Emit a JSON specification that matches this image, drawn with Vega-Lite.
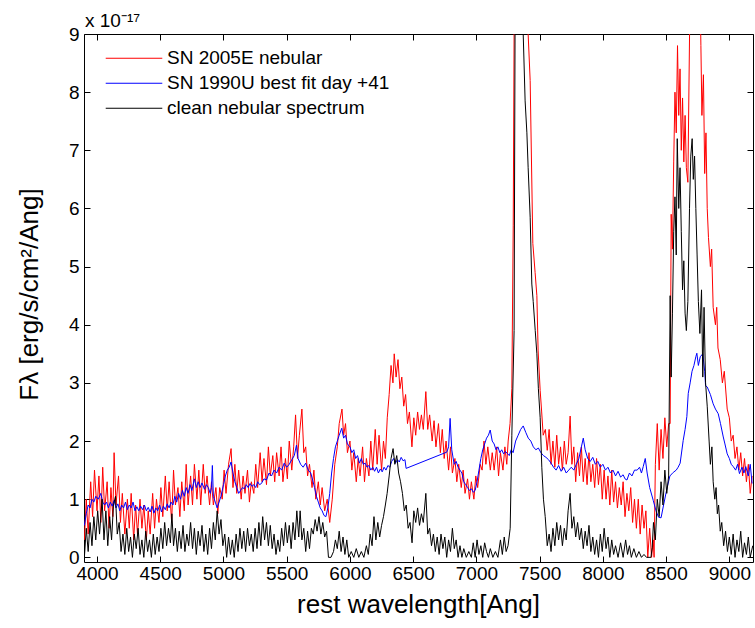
{
"$schema": "https://vega.github.io/schema/vega-lite/v6.json",
"width": 669,
"height": 528,
"autosize": {"type": "none"},
"padding": {"left": 84, "top": 34, "right": 2, "bottom": 66},
"background": "white",
"config": {
  "view": {"stroke": "black", "strokeWidth": 1},
  "font": "Liberation Sans",
  "axis": {"domain": false, "grid": false, "tickColor": "black", "labelColor": "black", "titleColor": "black", "labelFont": "Liberation Sans", "titleFont": "Liberation Sans", "labelFontSize": 19, "titleFontSize": 26, "titleFontWeight": "normal", "tickWidth": 1}
},
"title": {"text": "x 10⁻¹⁷", "anchor": "start", "frame": "group", "fontSize": 19, "font": "Liberation Sans", "fontWeight": "normal", "color": "black", "offset": 8, "dx": 1, "dy": 14},
"datasets": {
"red": [
{"w":3900,"f":0.3},{"w":3915,"f":1.0},{"w":3930,"f":0.4},{"w":3950,"f":1.3},{"w":3965,"f":0.7},{"w":3980,"f":1.5},{"w":4000,"f":0.8},{"w":4015,"f":1.4},{"w":4030,"f":0.6},{"w":4045,"f":1.55},{"w":4060,"f":0.8},{"w":4080,"f":1.3},{"w":4095,"f":0.5},{"w":4110,"f":1.2},{"w":4125,"f":0.7},{"w":4135,"f":1.8},{"w":4150,"f":0.9},{"w":4170,"f":1.4},{"w":4185,"f":0.6},{"w":4200,"f":1.1},{"w":4220,"f":0.4},{"w":4240,"f":1.0},{"w":4255,"f":0.5},{"w":4270,"f":1.1},{"w":4290,"f":0.3},{"w":4305,"f":0.9},{"w":4320,"f":0.4},{"w":4340,"f":1.0},{"w":4355,"f":0.5},{"w":4370,"f":0.9},{"w":4390,"f":0.3},{"w":4405,"f":0.8},{"w":4420,"f":0.4},{"w":4440,"f":1.1},{"w":4455,"f":0.5},{"w":4470,"f":1.0},{"w":4490,"f":0.6},{"w":4505,"f":1.2},{"w":4520,"f":0.7},{"w":4540,"f":1.4},{"w":4555,"f":0.8},{"w":4570,"f":1.3},{"w":4590,"f":0.6},{"w":4605,"f":1.5},{"w":4620,"f":0.9},{"w":4640,"f":1.2},{"w":4655,"f":0.7},{"w":4670,"f":1.3},{"w":4690,"f":0.8},{"w":4705,"f":1.6},{"w":4720,"f":0.9},{"w":4740,"f":1.4},{"w":4755,"f":0.9},{"w":4770,"f":1.6},{"w":4790,"f":1.0},{"w":4805,"f":1.5},{"w":4820,"f":0.9},{"w":4840,"f":1.6},{"w":4855,"f":1.1},{"w":4870,"f":1.4},{"w":4890,"f":0.9},{"w":4905,"f":1.3},{"w":4920,"f":0.9},{"w":4940,"f":1.2},{"w":4955,"f":0.75},{"w":4970,"f":1.2},{"w":4990,"f":1.0},{"w":5005,"f":1.5},{"w":5020,"f":1.1},{"w":5040,"f":1.6},{"w":5060,"f":1.87},{"w":5075,"f":1.2},{"w":5090,"f":1.6},{"w":5105,"f":1.1},{"w":5120,"f":1.5},{"w":5140,"f":1.0},{"w":5155,"f":1.4},{"w":5170,"f":1.1},{"w":5190,"f":1.5},{"w":5205,"f":0.95},{"w":5220,"f":1.3},{"w":5240,"f":1.1},{"w":5255,"f":1.6},{"w":5270,"f":1.2},{"w":5290,"f":1.8},{"w":5305,"f":1.3},{"w":5320,"f":1.7},{"w":5340,"f":1.25},{"w":5355,"f":1.9},{"w":5370,"f":1.4},{"w":5390,"f":1.75},{"w":5405,"f":1.3},{"w":5420,"f":1.8},{"w":5440,"f":1.4},{"w":5455,"f":1.9},{"w":5470,"f":1.3},{"w":5490,"f":1.7},{"w":5505,"f":1.35},{"w":5520,"f":2.0},{"w":5540,"f":1.5},{"w":5555,"f":1.9},{"w":5570,"f":2.45},{"w":5585,"f":1.7},{"w":5600,"f":2.1},{"w":5620,"f":2.55},{"w":5635,"f":1.8},{"w":5650,"f":1.9},{"w":5665,"f":1.4},{"w":5680,"f":1.6},{"w":5700,"f":1.2},{"w":5715,"f":1.5},{"w":5730,"f":1.0},{"w":5750,"f":1.3},{"w":5765,"f":0.9},{"w":5780,"f":1.2},{"w":5800,"f":0.8},{"w":5820,"f":1.0},{"w":5840,"f":0.6},{"w":5860,"f":1.0},{"w":5880,"f":1.6},{"w":5900,"f":1.9},{"w":5915,"f":2.3},{"w":5937,"f":2.55},{"w":5950,"f":2.1},{"w":5965,"f":2.3},{"w":5980,"f":1.8},{"w":6000,"f":2.0},{"w":6015,"f":1.5},{"w":6030,"f":1.8},{"w":6050,"f":1.3},{"w":6065,"f":1.7},{"w":6080,"f":1.4},{"w":6100,"f":1.9},{"w":6115,"f":1.3},{"w":6130,"f":1.7},{"w":6150,"f":1.4},{"w":6165,"f":2.0},{"w":6180,"f":1.5},{"w":6200,"f":2.2},{"w":6215,"f":1.6},{"w":6230,"f":2.1},{"w":6250,"f":1.5},{"w":6265,"f":2.0},{"w":6280,"f":1.7},{"w":6295,"f":2.4},{"w":6310,"f":2.8},{"w":6325,"f":3.3},{"w":6340,"f":3.0},{"w":6350,"f":3.5},{"w":6365,"f":3.1},{"w":6380,"f":3.4},{"w":6395,"f":2.9},{"w":6410,"f":3.1},{"w":6425,"f":2.6},{"w":6440,"f":2.8},{"w":6455,"f":2.3},{"w":6470,"f":2.5},{"w":6490,"f":1.9},{"w":6505,"f":2.4},{"w":6520,"f":2.1},{"w":6535,"f":2.5},{"w":6550,"f":2.2},{"w":6565,"f":2.45},{"w":6580,"f":2.2},{"w":6600,"f":2.85},{"w":6615,"f":2.2},{"w":6630,"f":2.45},{"w":6650,"f":2.0},{"w":6665,"f":2.35},{"w":6680,"f":1.9},{"w":6700,"f":2.3},{"w":6715,"f":1.8},{"w":6730,"f":2.2},{"w":6745,"f":1.7},{"w":6760,"f":2.0},{"w":6780,"f":1.5},{"w":6795,"f":1.9},{"w":6810,"f":1.45},{"w":6830,"f":1.7},{"w":6845,"f":1.3},{"w":6860,"f":1.6},{"w":6880,"f":1.2},{"w":6895,"f":1.5},{"w":6910,"f":1.1},{"w":6930,"f":1.35},{"w":6945,"f":1.0},{"w":6960,"f":1.3},{"w":6980,"f":1.0},{"w":6995,"f":1.4},{"w":7010,"f":1.2},{"w":7030,"f":1.6},{"w":7045,"f":1.5},{"w":7060,"f":2.0},{"w":7075,"f":1.6},{"w":7090,"f":1.9},{"w":7110,"f":1.5},{"w":7125,"f":1.8},{"w":7140,"f":1.5},{"w":7160,"f":1.9},{"w":7175,"f":1.4},{"w":7190,"f":1.8},{"w":7210,"f":1.5},{"w":7225,"f":1.9},{"w":7240,"f":1.6},{"w":7251,"f":2.0},{"w":7266,"f":2.3},{"w":7280,"f":2.9},{"w":7291,"f":5.7},{"w":7300,"f":10},{"w":7320,"f":14},{"w":7360,"f":15},{"w":7400,"f":11},{"w":7409,"f":9},{"w":7425,"f":8.2},{"w":7446,"f":5.4},{"w":7464,"f":4.9},{"w":7478,"f":4.5},{"w":7488,"f":3.55},{"w":7504,"f":2.87},{"w":7516,"f":2.5},{"w":7528,"f":2.1},{"w":7545,"f":2.2},{"w":7560,"f":1.84},{"w":7575,"f":2.2},{"w":7590,"f":1.6},{"w":7605,"f":2.0},{"w":7620,"f":1.55},{"w":7635,"f":2.1},{"w":7650,"f":1.6},{"w":7665,"f":1.9},{"w":7680,"f":1.5},{"w":7695,"f":2.0},{"w":7710,"f":1.6},{"w":7725,"f":1.8},{"w":7741,"f":2.43},{"w":7755,"f":1.6},{"w":7770,"f":1.9},{"w":7785,"f":1.3},{"w":7800,"f":1.8},{"w":7815,"f":1.4},{"w":7830,"f":1.9},{"w":7845,"f":1.3},{"w":7860,"f":1.7},{"w":7875,"f":1.25},{"w":7890,"f":1.8},{"w":7905,"f":1.3},{"w":7920,"f":1.6},{"w":7935,"f":1.2},{"w":7950,"f":1.7},{"w":7965,"f":1.25},{"w":7980,"f":1.6},{"w":7995,"f":1.0},{"w":8010,"f":1.5},{"w":8025,"f":1.0},{"w":8040,"f":1.4},{"w":8055,"f":0.9},{"w":8070,"f":1.5},{"w":8085,"f":0.95},{"w":8100,"f":1.3},{"w":8115,"f":0.85},{"w":8130,"f":1.2},{"w":8145,"f":0.9},{"w":8160,"f":1.3},{"w":8175,"f":0.7},{"w":8190,"f":1.1},{"w":8205,"f":0.8},{"w":8220,"f":1.2},{"w":8235,"f":0.6},{"w":8250,"f":1.0},{"w":8265,"f":0.5},{"w":8280,"f":1.0},{"w":8295,"f":0.4},{"w":8310,"f":0.9},{"w":8325,"f":0.5},{"w":8340,"f":0.8},{"w":8355,"f":0.0},{"w":8370,"f":0.5},{"w":8385,"f":0.0},{"w":8398,"f":0.3},{"w":8405,"f":0.0},{"w":8415,"f":1.6},{"w":8430,"f":2.3},{"w":8445,"f":1.5},{"w":8460,"f":2.2},{"w":8475,"f":1.7},{"w":8490,"f":2.4},{"w":8505,"f":1.9},{"w":8520,"f":2.3},{"w":8532,"f":2.3},{"w":8540,"f":5.9},{"w":8550,"f":5.3},{"w":8560,"f":6.8},{"w":8570,"f":8.0},{"w":8580,"f":7.3},{"w":8590,"f":8.8},{"w":8600,"f":7.6},{"w":8610,"f":8.4},{"w":8620,"f":7.0},{"w":8630,"f":7.9},{"w":8640,"f":6.8},{"w":8650,"f":7.6},{"w":8660,"f":6.7},{"w":8672,"f":6.45},{"w":8688,"f":9.5},{"w":8700,"f":12},{"w":8730,"f":14},{"w":8760,"f":11},{"w":8775,"f":8.8},{"w":8783,"f":7.6},{"w":8795,"f":8.3},{"w":8805,"f":6.6},{"w":8815,"f":7.3},{"w":8825,"f":6.0},{"w":8835,"f":5.5},{"w":8850,"f":5.0},{"w":8860,"f":5.3},{"w":8872,"f":4.3},{"w":8890,"f":4.0},{"w":8900,"f":4.3},{"w":8910,"f":3.6},{"w":8928,"f":3.4},{"w":8945,"f":3.0},{"w":8960,"f":3.2},{"w":8983,"f":2.55},{"w":9000,"f":2.4},{"w":9015,"f":2.0},{"w":9030,"f":2.1},{"w":9045,"f":1.7},{"w":9060,"f":1.9},{"w":9075,"f":1.5},{"w":9090,"f":1.8},{"w":9105,"f":1.4},{"w":9120,"f":1.7},{"w":9135,"f":1.3},{"w":9150,"f":1.6},{"w":9165,"f":1.1},{"w":9180,"f":1.4}
],
"blue": [
{"w":3900,"f":0.55},{"w":3915,"f":0.75},{"w":3930,"f":0.9},{"w":3945,"f":0.85},{"w":3960,"f":1.0},{"w":3975,"f":0.95},{"w":3990,"f":1.05},{"w":4010,"f":1.0},{"w":4030,"f":1.1},{"w":4045,"f":0.95},{"w":4060,"f":0.9},{"w":4075,"f":0.95},{"w":4090,"f":0.85},{"w":4105,"f":0.95},{"w":4120,"f":0.88},{"w":4135,"f":0.98},{"w":4150,"f":0.85},{"w":4165,"f":0.92},{"w":4180,"f":0.8},{"w":4195,"f":0.9},{"w":4210,"f":0.85},{"w":4225,"f":0.95},{"w":4240,"f":0.82},{"w":4255,"f":0.9},{"w":4270,"f":0.85},{"w":4285,"f":0.95},{"w":4300,"f":0.8},{"w":4315,"f":0.87},{"w":4330,"f":0.8},{"w":4345,"f":0.88},{"w":4360,"f":0.82},{"w":4375,"f":0.9},{"w":4390,"f":0.8},{"w":4405,"f":0.86},{"w":4420,"f":0.78},{"w":4435,"f":0.88},{"w":4450,"f":0.76},{"w":4465,"f":0.85},{"w":4480,"f":0.8},{"w":4495,"f":0.9},{"w":4510,"f":0.78},{"w":4525,"f":0.88},{"w":4540,"f":0.82},{"w":4555,"f":0.92},{"w":4570,"f":0.85},{"w":4585,"f":0.95},{"w":4600,"f":0.9},{"w":4615,"f":1.05},{"w":4630,"f":0.95},{"w":4645,"f":1.1},{"w":4660,"f":1.0},{"w":4675,"f":1.15},{"w":4690,"f":1.05},{"w":4705,"f":1.2},{"w":4720,"f":1.1},{"w":4735,"f":1.25},{"w":4750,"f":1.15},{"w":4770,"f":1.35},{"w":4785,"f":1.2},{"w":4800,"f":1.3},{"w":4815,"f":1.2},{"w":4830,"f":1.28},{"w":4850,"f":1.17},{"w":4865,"f":1.25},{"w":4880,"f":1.2},{"w":4895,"f":1.1},{"w":4905,"f":1.2},{"w":4912,"f":1.58},{"w":4920,"f":1.05},{"w":4935,"f":0.95},{"w":4950,"f":0.85},{"w":4965,"f":0.95},{"w":4980,"f":1.05},{"w":5000,"f":1.25},{"w":5015,"f":1.4},{"w":5030,"f":1.5},{"w":5045,"f":1.55},{"w":5060,"f":1.64},{"w":5075,"f":1.45},{"w":5090,"f":1.3},{"w":5105,"f":1.2},{"w":5120,"f":1.1},{"w":5135,"f":1.15},{"w":5150,"f":1.2},{"w":5165,"f":1.18},{"w":5180,"f":1.25},{"w":5195,"f":1.2},{"w":5210,"f":1.27},{"w":5225,"f":1.22},{"w":5240,"f":1.25},{"w":5255,"f":1.2},{"w":5270,"f":1.3},{"w":5285,"f":1.25},{"w":5300,"f":1.27},{"w":5320,"f":1.35},{"w":5340,"f":1.33},{"w":5360,"f":1.45},{"w":5380,"f":1.4},{"w":5400,"f":1.5},{"w":5420,"f":1.45},{"w":5440,"f":1.55},{"w":5460,"f":1.5},{"w":5480,"f":1.62},{"w":5500,"f":1.55},{"w":5520,"f":1.6},{"w":5540,"f":1.68},{"w":5560,"f":1.75},{"w":5577,"f":1.93},{"w":5590,"f":1.7},{"w":5610,"f":1.6},{"w":5630,"f":1.55},{"w":5650,"f":1.62},{"w":5670,"f":1.5},{"w":5690,"f":1.45},{"w":5705,"f":1.33},{"w":5720,"f":1.2},{"w":5735,"f":1.05},{"w":5750,"f":0.95},{"w":5765,"f":0.85},{"w":5780,"f":0.8},{"w":5795,"f":0.72},{"w":5810,"f":0.7},{"w":5825,"f":0.85},{"w":5840,"f":1.1},{"w":5855,"f":1.45},{"w":5870,"f":1.7},{"w":5885,"f":1.9},{"w":5900,"f":2.0},{"w":5915,"f":2.1},{"w":5935,"f":2.22},{"w":5950,"f":2.05},{"w":5965,"f":2.1},{"w":5980,"f":1.95},{"w":6000,"f":1.9},{"w":6015,"f":1.8},{"w":6030,"f":1.85},{"w":6045,"f":1.7},{"w":6060,"f":1.75},{"w":6075,"f":1.62},{"w":6090,"f":1.7},{"w":6105,"f":1.6},{"w":6120,"f":1.62},{"w":6135,"f":1.55},{"w":6150,"f":1.58},{"w":6165,"f":1.5},{"w":6180,"f":1.55},{"w":6195,"f":1.48},{"w":6210,"f":1.55},{"w":6225,"f":1.45},{"w":6240,"f":1.52},{"w":6255,"f":1.47},{"w":6270,"f":1.55},{"w":6285,"f":1.5},{"w":6300,"f":1.58},{"w":6315,"f":1.55},{"w":6330,"f":1.65},{"w":6345,"f":1.7},{"w":6360,"f":1.62},{"w":6375,"f":1.68},{"w":6390,"f":1.64},{"w":6405,"f":1.72},{"w":6420,"f":1.66},{"w":6435,"f":1.68},{"w":6444,"f":1.53},{"w":6766,"f":1.81},{"w":6780,"f":1.9},{"w":6792,"f":2.39},{"w":6805,"f":1.85},{"w":6824,"f":1.6},{"w":6840,"f":1.65},{"w":6855,"f":1.55},{"w":6870,"f":1.5},{"w":6885,"f":1.45},{"w":6900,"f":1.3},{"w":6915,"f":1.25},{"w":6930,"f":1.2},{"w":6945,"f":1.15},{"w":6960,"f":1.18},{"w":6975,"f":1.12},{"w":6990,"f":1.15},{"w":7005,"f":1.3},{"w":7020,"f":1.5},{"w":7035,"f":1.7},{"w":7050,"f":1.85},{"w":7065,"f":1.95},{"w":7080,"f":2.05},{"w":7095,"f":2.1},{"w":7109,"f":2.19},{"w":7125,"f":2.0},{"w":7140,"f":1.95},{"w":7155,"f":1.85},{"w":7170,"f":1.9},{"w":7185,"f":1.8},{"w":7200,"f":1.85},{"w":7215,"f":1.78},{"w":7230,"f":1.82},{"w":7243,"f":1.79},{"w":7260,"f":1.75},{"w":7275,"f":1.85},{"w":7290,"f":1.8},{"w":7310,"f":2.0},{"w":7330,"f":2.1},{"w":7350,"f":2.2},{"w":7370,"f":2.26},{"w":7390,"f":2.15},{"w":7410,"f":2.05},{"w":7430,"f":2.0},{"w":7450,"f":1.9},{"w":7470,"f":1.85},{"w":7490,"f":1.88},{"w":7510,"f":1.8},{"w":7530,"f":1.75},{"w":7550,"f":1.72},{"w":7570,"f":1.68},{"w":7590,"f":1.62},{"w":7610,"f":1.55},{"w":7630,"f":1.5},{"w":7650,"f":1.58},{"w":7670,"f":1.48},{"w":7690,"f":1.55},{"w":7710,"f":1.45},{"w":7730,"f":1.5},{"w":7750,"f":1.55},{"w":7770,"f":1.5},{"w":7790,"f":1.6},{"w":7810,"f":1.7},{"w":7830,"f":1.9},{"w":7845,"f":2.05},{"w":7860,"f":1.85},{"w":7880,"f":1.7},{"w":7900,"f":1.65},{"w":7920,"f":1.72},{"w":7940,"f":1.6},{"w":7960,"f":1.65},{"w":7980,"f":1.55},{"w":8000,"f":1.6},{"w":8020,"f":1.5},{"w":8040,"f":1.55},{"w":8060,"f":1.45},{"w":8080,"f":1.5},{"w":8100,"f":1.4},{"w":8120,"f":1.48},{"w":8140,"f":1.38},{"w":8160,"f":1.42},{"w":8175,"f":1.35},{"w":8190,"f":1.33},{"w":8210,"f":1.45},{"w":8230,"f":1.4},{"w":8250,"f":1.5},{"w":8271,"f":1.5},{"w":8290,"f":1.55},{"w":8305,"f":1.45},{"w":8319,"f":1.56},{"w":8335,"f":1.7},{"w":8350,"f":1.45},{"w":8370,"f":1.2},{"w":8398,"f":0.98},{"w":8420,"f":0.8},{"w":8440,"f":0.69},{"w":8460,"f":0.68},{"w":8480,"f":0.9},{"w":8508,"f":1.2},{"w":8530,"f":1.4},{"w":8556,"f":1.46},{"w":8580,"f":1.5},{"w":8595,"f":1.55},{"w":8611,"f":1.62},{"w":8635,"f":2.01},{"w":8650,"f":2.2},{"w":8664,"f":2.42},{"w":8675,"f":2.82},{"w":8690,"f":3.0},{"w":8705,"f":3.2},{"w":8720,"f":3.3},{"w":8735,"f":3.45},{"w":8743,"f":3.51},{"w":8755,"f":3.3},{"w":8770,"f":3.45},{"w":8790,"f":3.5},{"w":8805,"f":3.2},{"w":8812,"f":2.95},{"w":8825,"f":2.93},{"w":8850,"f":2.8},{"w":8872,"f":2.64},{"w":8890,"f":2.55},{"w":8912,"f":2.47},{"w":8930,"f":2.3},{"w":8952,"f":2.07},{"w":8965,"f":1.95},{"w":8983,"f":1.78},{"w":9000,"f":1.7},{"w":9015,"f":1.6},{"w":9031,"f":1.56},{"w":9050,"f":1.5},{"w":9065,"f":1.6},{"w":9080,"f":1.44},{"w":9100,"f":1.55},{"w":9115,"f":1.45},{"w":9130,"f":1.56},{"w":9150,"f":1.4},{"w":9165,"f":1.6},{"w":9180,"f":1.27}
],
"black": [
{"w":3900,"f":0.0},{"w":3915,"f":0.5},{"w":3930,"f":0.1},{"w":3945,"f":0.6},{"w":3960,"f":0.2},{"w":3975,"f":0.7},{"w":3990,"f":0.3},{"w":4005,"f":0.8},{"w":4020,"f":0.4},{"w":4040,"f":1.0},{"w":4055,"f":0.3},{"w":4070,"f":0.8},{"w":4085,"f":0.2},{"w":4100,"f":0.7},{"w":4115,"f":0.3},{"w":4130,"f":0.9},{"w":4146,"f":1.05},{"w":4160,"f":0.4},{"w":4175,"f":0.6},{"w":4190,"f":0.1},{"w":4205,"f":0.4},{"w":4220,"f":0.05},{"w":4235,"f":0.5},{"w":4250,"f":0.1},{"w":4265,"f":0.35},{"w":4280,"f":0.0},{"w":4295,"f":0.4},{"w":4310,"f":0.15},{"w":4325,"f":0.5},{"w":4340,"f":0.05},{"w":4355,"f":0.3},{"w":4370,"f":0.0},{"w":4385,"f":0.45},{"w":4400,"f":0.1},{"w":4415,"f":0.3},{"w":4430,"f":0.0},{"w":4445,"f":0.4},{"w":4460,"f":0.05},{"w":4475,"f":0.35},{"w":4490,"f":0.1},{"w":4505,"f":0.5},{"w":4520,"f":0.15},{"w":4535,"f":0.6},{"w":4550,"f":0.2},{"w":4565,"f":0.5},{"w":4580,"f":0.25},{"w":4592,"f":0.75},{"w":4605,"f":0.2},{"w":4620,"f":0.5},{"w":4635,"f":0.1},{"w":4650,"f":0.45},{"w":4665,"f":0.15},{"w":4680,"f":0.55},{"w":4695,"f":0.1},{"w":4710,"f":0.4},{"w":4725,"f":0.2},{"w":4740,"f":0.6},{"w":4755,"f":0.15},{"w":4770,"f":0.5},{"w":4785,"f":0.05},{"w":4800,"f":0.45},{"w":4815,"f":0.2},{"w":4830,"f":0.55},{"w":4845,"f":0.1},{"w":4860,"f":0.4},{"w":4875,"f":0.05},{"w":4890,"f":0.5},{"w":4905,"f":0.15},{"w":4920,"f":0.6},{"w":4935,"f":0.3},{"w":4950,"f":0.8},{"w":4965,"f":0.4},{"w":4980,"f":0.65},{"w":4995,"f":0.2},{"w":5010,"f":0.4},{"w":5025,"f":0.0},{"w":5040,"f":0.35},{"w":5055,"f":0.05},{"w":5070,"f":0.3},{"w":5085,"f":0.0},{"w":5100,"f":0.4},{"w":5115,"f":0.1},{"w":5130,"f":0.5},{"w":5145,"f":0.15},{"w":5160,"f":0.45},{"w":5175,"f":0.1},{"w":5190,"f":0.5},{"w":5205,"f":0.2},{"w":5220,"f":0.4},{"w":5235,"f":0.1},{"w":5250,"f":0.5},{"w":5265,"f":0.15},{"w":5280,"f":0.6},{"w":5295,"f":0.2},{"w":5310,"f":0.7},{"w":5325,"f":0.3},{"w":5340,"f":0.6},{"w":5355,"f":0.2},{"w":5370,"f":0.55},{"w":5385,"f":0.15},{"w":5400,"f":0.4},{"w":5415,"f":0.05},{"w":5430,"f":0.3},{"w":5445,"f":0.1},{"w":5460,"f":0.5},{"w":5475,"f":0.2},{"w":5490,"f":0.6},{"w":5505,"f":0.25},{"w":5520,"f":0.55},{"w":5535,"f":0.15},{"w":5550,"f":0.6},{"w":5565,"f":0.3},{"w":5580,"f":0.8},{"w":5595,"f":0.35},{"w":5606,"f":0.8},{"w":5620,"f":0.3},{"w":5635,"f":0.5},{"w":5650,"f":0.1},{"w":5665,"f":0.45},{"w":5680,"f":0.15},{"w":5695,"f":0.5},{"w":5710,"f":0.4},{"w":5725,"f":0.65},{"w":5740,"f":0.45},{"w":5755,"f":0.7},{"w":5770,"f":0.4},{"w":5785,"f":0.6},{"w":5800,"f":0.35},{"w":5815,"f":0.45},{"w":5830,"f":0.0},{"w":5850,"f":0.0},{"w":5870,"f":0.1},{"w":5885,"f":0.3},{"w":5900,"f":0.15},{"w":5915,"f":0.45},{"w":5930,"f":0.1},{"w":5945,"f":0.35},{"w":5960,"f":0.05},{"w":5975,"f":0.3},{"w":5990,"f":0.0},{"w":6010,"f":0.1},{"w":6030,"f":0.0},{"w":6050,"f":0.15},{"w":6070,"f":0.0},{"w":6090,"f":0.1},{"w":6110,"f":0.0},{"w":6130,"f":0.2},{"w":6145,"f":0.05},{"w":6160,"f":0.4},{"w":6175,"f":0.2},{"w":6190,"f":0.7},{"w":6205,"f":0.3},{"w":6220,"f":0.6},{"w":6235,"f":0.35},{"w":6250,"f":0.55},{"w":6265,"f":0.7},{"w":6280,"f":0.9},{"w":6294,"f":1.1},{"w":6310,"f":1.4},{"w":6325,"f":1.7},{"w":6341,"f":1.87},{"w":6355,"f":1.6},{"w":6370,"f":1.75},{"w":6385,"f":1.45},{"w":6400,"f":1.3},{"w":6415,"f":1.1},{"w":6430,"f":0.8},{"w":6445,"f":0.9},{"w":6460,"f":0.5},{"w":6475,"f":0.6},{"w":6491,"f":0.25},{"w":6505,"f":0.8},{"w":6520,"f":0.6},{"w":6535,"f":0.85},{"w":6550,"f":0.55},{"w":6565,"f":0.75},{"w":6580,"f":0.6},{"w":6600,"f":1.1},{"w":6615,"f":0.4},{"w":6630,"f":0.5},{"w":6645,"f":0.2},{"w":6660,"f":0.4},{"w":6675,"f":0.1},{"w":6690,"f":0.35},{"w":6705,"f":0.05},{"w":6720,"f":0.4},{"w":6735,"f":0.15},{"w":6750,"f":0.35},{"w":6765,"f":0.0},{"w":6780,"f":0.3},{"w":6795,"f":0.1},{"w":6810,"f":0.5},{"w":6825,"f":0.15},{"w":6840,"f":0.3},{"w":6855,"f":0.0},{"w":6870,"f":0.2},{"w":6885,"f":0.0},{"w":6900,"f":0.15},{"w":6920,"f":0.0},{"w":6940,"f":0.1},{"w":6960,"f":0.0},{"w":6975,"f":0.25},{"w":6990,"f":0.0},{"w":7005,"f":0.3},{"w":7020,"f":0.05},{"w":7035,"f":0.2},{"w":7050,"f":0.0},{"w":7065,"f":0.25},{"w":7080,"f":0.1},{"w":7095,"f":0.0},{"w":7110,"f":0.15},{"w":7130,"f":0.0},{"w":7150,"f":0.1},{"w":7170,"f":0.0},{"w":7190,"f":0.3},{"w":7205,"f":0.05},{"w":7220,"f":0.35},{"w":7235,"f":0.1},{"w":7250,"f":0.2},{"w":7267,"f":0.5},{"w":7280,"f":2.1},{"w":7298,"f":3.9},{"w":7306,"f":9.5},{"w":7320,"f":13},{"w":7340,"f":14},{"w":7360,"f":12},{"w":7370,"f":9.0},{"w":7385,"f":7.85},{"w":7399,"f":7.3},{"w":7409,"f":6.7},{"w":7425,"f":5.85},{"w":7438,"f":4.7},{"w":7449,"f":4.4},{"w":7465,"f":3.9},{"w":7478,"f":3.5},{"w":7490,"f":2.9},{"w":7504,"f":2.4},{"w":7517,"f":1.55},{"w":7530,"f":1.0},{"w":7544,"f":0.7},{"w":7560,"f":0.2},{"w":7575,"f":0.4},{"w":7590,"f":0.1},{"w":7605,"f":0.5},{"w":7620,"f":0.2},{"w":7635,"f":0.6},{"w":7650,"f":0.3},{"w":7665,"f":0.55},{"w":7680,"f":0.2},{"w":7695,"f":0.5},{"w":7710,"f":0.3},{"w":7725,"f":0.8},{"w":7741,"f":1.1},{"w":7755,"f":0.5},{"w":7770,"f":0.7},{"w":7785,"f":0.35},{"w":7800,"f":0.6},{"w":7815,"f":0.3},{"w":7830,"f":0.5},{"w":7845,"f":0.15},{"w":7860,"f":0.45},{"w":7875,"f":0.2},{"w":7890,"f":0.55},{"w":7905,"f":0.1},{"w":7920,"f":0.35},{"w":7935,"f":0.05},{"w":7950,"f":0.3},{"w":7965,"f":0.0},{"w":7980,"f":0.4},{"w":7995,"f":0.1},{"w":8010,"f":0.5},{"w":8025,"f":0.15},{"w":8040,"f":0.35},{"w":8055,"f":0.0},{"w":8070,"f":0.3},{"w":8085,"f":0.05},{"w":8100,"f":0.2},{"w":8120,"f":0.0},{"w":8140,"f":0.25},{"w":8160,"f":0.0},{"w":8180,"f":0.3},{"w":8195,"f":0.05},{"w":8210,"f":0.2},{"w":8225,"f":0.0},{"w":8245,"f":0.15},{"w":8265,"f":0.0},{"w":8285,"f":0.1},{"w":8305,"f":0.0},{"w":8325,"f":0.05},{"w":8345,"f":0.0},{"w":8365,"f":0.0},{"w":8380,"f":0.0},{"w":8390,"f":0.17},{"w":8400,"f":0.6},{"w":8415,"f":0.3},{"w":8430,"f":1.0},{"w":8445,"f":0.7},{"w":8460,"f":1.3},{"w":8475,"f":0.9},{"w":8490,"f":1.5},{"w":8505,"f":1.1},{"w":8520,"f":1.4},{"w":8532,"f":4.5},{"w":8540,"f":3.1},{"w":8550,"f":4.2},{"w":8560,"f":5.6},{"w":8570,"f":6.2},{"w":8580,"f":5.2},{"w":8588,"f":7.2},{"w":8600,"f":6.0},{"w":8610,"f":6.7},{"w":8620,"f":5.6},{"w":8630,"f":4.6},{"w":8640,"f":5.1},{"w":8650,"f":4.2},{"w":8660,"f":3.9},{"w":8672,"f":4.4},{"w":8685,"f":6.0},{"w":8695,"f":6.9},{"w":8706,"f":7.2},{"w":8715,"f":6.5},{"w":8725,"f":6.9},{"w":8735,"f":6.0},{"w":8745,"f":5.2},{"w":8755,"f":4.4},{"w":8767,"f":3.85},{"w":8780,"f":4.6},{"w":8790,"f":3.1},{"w":8800,"f":4.3},{"w":8812,"f":3.0},{"w":8825,"f":2.6},{"w":8840,"f":2.0},{"w":8850,"f":1.6},{"w":8862,"f":1.9},{"w":8872,"f":1.3},{"w":8885,"f":1.0},{"w":8895,"f":1.2},{"w":8905,"f":0.75},{"w":8915,"f":0.9},{"w":8928,"f":0.45},{"w":8940,"f":0.6},{"w":8955,"f":0.2},{"w":8970,"f":0.45},{"w":8985,"f":0.1},{"w":9000,"f":0.35},{"w":9015,"f":0.05},{"w":9030,"f":0.4},{"w":9045,"f":0.0},{"w":9060,"f":0.3},{"w":9075,"f":0.1},{"w":9090,"f":0.45},{"w":9105,"f":0.0},{"w":9120,"f":0.25},{"w":9135,"f":0.05},{"w":9150,"f":0.35},{"w":9165,"f":0.0},{"w":9185,"f":0.2}
]
},
"resolve": {"axis": {"x": "independent", "y": "independent"}},
"layer": [
{
"data": {"name": "red"},
"mark": {"type": "line", "clip": true, "strokeWidth": 1},
"encoding": {
"x": {"field": "w", "type": "quantitative", "scale": {"domain": [3897, 9187], "nice": false, "zero": false},
  "axis": {"orient": "bottom", "values": [4000,4500,5000,5500,6000,6500,7000,7500,8000,8500,9000], "format": "d", "tickSize": -6, "labelPadding": 8, "labelFlush": false, "title": "rest wavelength[Ang]", "titleX": 334, "titleY": 50, "titleBaseline": "alphabetic", "titleAlign": "center"}},
"y": {"field": "f", "type": "quantitative", "scale": {"domain": [-0.08, 9], "nice": false, "zero": false},
  "axis": {"orient": "left", "values": [0,1,2,3,4,5,6,7,8,9], "format": "d", "tickSize": -6, "labelPadding": 11, "title": "Fλ [erg/s/cm²/Ang]", "titleAngle": -90, "titleX": -47, "titleY": 260, "titleAlign": "center", "titleBaseline": "alphabetic"}},
"color": {"datum": "SN 2005E nebular", "type": "nominal",
  "scale": {"domain": ["SN 2005E nebular", "SN 1990U best fit day +41", "clean nebular spectrum"], "range": ["#ff0000", "#0000ff", "#000000"]},
  "legend": {"orient": "none", "legendX": 21, "legendY": 12, "title": null, "symbolType": "stroke", "symbolSize": 3200, "symbolStrokeWidth": 1.2, "labelFontSize": 19, "labelFont": "Liberation Sans", "labelColor": "black", "labelOffset": 4, "labelLimit": 500, "clipHeight": 24.5, "rowPadding": 0, "padding": 0}}
}
},
{
"data": {"name": "blue"},
"mark": {"type": "line", "clip": true, "strokeWidth": 1},
"encoding": {
"x": {"field": "w", "type": "quantitative", "axis": null},
"y": {"field": "f", "type": "quantitative", "axis": null},
"color": {"datum": "SN 1990U best fit day +41", "type": "nominal"}
}
},
{
"data": {"name": "black"},
"mark": {"type": "line", "clip": true, "strokeWidth": 1},
"encoding": {
"x": {"field": "w", "type": "quantitative", "axis": {"orient": "top", "values": [4000,4500,5000,5500,6000,6500,7000,7500,8000,8500,9000], "tickSize": -6, "labels": false, "title": null}},
"y": {"field": "f", "type": "quantitative", "axis": {"orient": "right", "values": [0,1,2,3,4,5,6,7,8,9], "tickSize": -6, "labels": false, "title": null}},
"color": {"datum": "clean nebular spectrum", "type": "nominal"}
}
}
]
}
